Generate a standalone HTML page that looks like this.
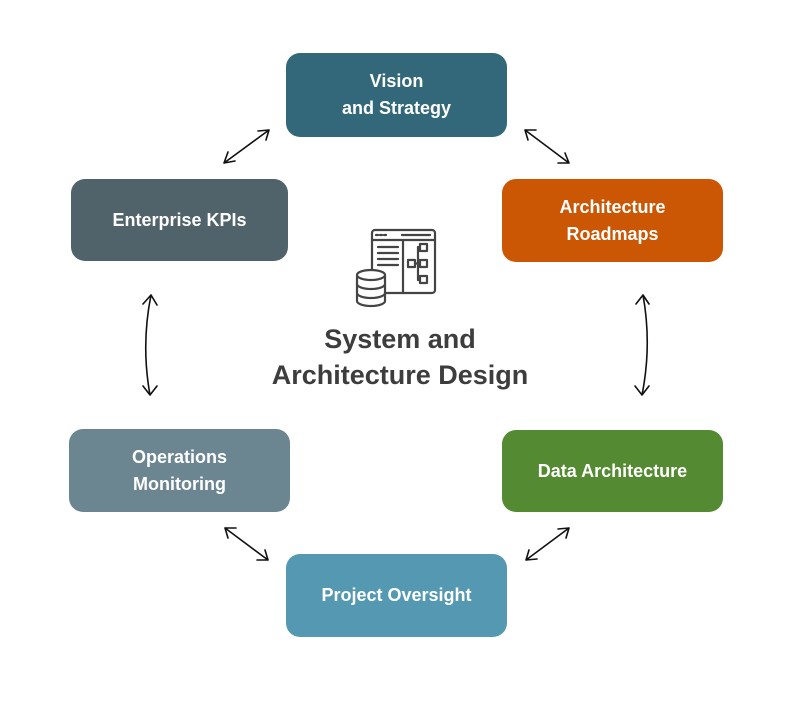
<!DOCTYPE html>
<html><head><meta charset="utf-8"><style>
body{margin:0;width:800px;height:713px;background:#fff;position:relative;overflow:hidden;font-family:"Liberation Sans",sans-serif}
.b{position:absolute;border-radius:14px;color:#fff;font-weight:bold;font-size:18px;display:flex;align-items:center;justify-content:center;text-align:center;line-height:27px}
svg{position:absolute;left:0;top:0}
.t{position:absolute;left:150px;width:500px;text-align:center;font-weight:bold;font-size:27px;color:#3d3d3d;line-height:36px;top:321px}
</style></head><body>
<div class="b" style="left:286px;top:53px;width:221px;height:84px;background:#33687a">Vision<br>and Strategy</div>
<div class="b" style="left:71px;top:179px;width:217px;height:82px;background:#50636b">Enterprise KPIs</div>
<div class="b" style="left:502px;top:179px;width:221px;height:83px;background:#cb5704">Architecture<br>Roadmaps</div>
<div class="b" style="left:502px;top:430px;width:221px;height:82px;background:#548a32">Data Architecture</div>
<div class="b" style="left:69px;top:429px;width:221px;height:83px;background:#6b8591">Operations<br>Monitoring</div>
<div class="b" style="left:286px;top:554px;width:221px;height:83px;background:#5498b2">Project Oversight</div>
<div class="t">System and<br>Architecture Design</div>
<svg width="800" height="713" fill="none" stroke="#111" stroke-width="1.6" stroke-linecap="round" stroke-linejoin="round">
<path d="M224,163 L269,130 M224,163 l4,-11 M224,163 l11,-2 M269,130 l-11,1 M269,130 l-3,10"/>
<path d="M525,130 L569,163 M525,130 l11,0 M525,130 l3,10 M569,163 l-4,-10 M569,163 l-11,0"/>
<path d="M225,528 L268,560 M225,528 l11,0 M225,528 l3,10 M268,560 l-3,-10 M268,560 l-11,0"/>
<path d="M526,560 L569,528 M526,560 l3,-10 M526,560 l11,-1 M569,528 l-11,1 M569,528 l-3,10"/>
<path d="M151,295 Q141,345 150,395 M151,295 l-8,9 M151,295 l6,10 M150,395 l-7,-9 M150,395 l7,-9"/>
<path d="M643,295 Q652,345 642,395 M643,295 l-7,9 M643,295 l6,9 M642,395 l-7,-9 M642,395 l7,-9"/>
<g stroke="#444" stroke-width="2.2">
<rect x="372" y="230" width="63" height="63" rx="3"/>
<path d="M372,240 H435 M403,240 V293 M376,235 h2 M380,235 h2 M384,235 h2 M402,235 h28 M378,247 h20 M378,253 h20 M378,259 h20 M378,265 h20"/>
<rect x="420" y="244" width="7" height="7"/><rect x="408" y="260" width="7" height="7"/><rect x="420" y="260" width="7" height="7"/><rect x="420" y="276" width="7" height="7"/>
<path d="M415,263.5 h5 M418,247 v33 h2 M418,247 h2"/>
<g fill="#fff"><path d="M357,275 v26 a14,5 0 0 0 28,0 v-26"/><ellipse cx="371" cy="275" rx="14" ry="5"/></g>
<path d="M357,284 a14,5 0 0 0 28,0 M357,293 a14,5 0 0 0 28,0"/>
</g>
</svg>
</body></html>
